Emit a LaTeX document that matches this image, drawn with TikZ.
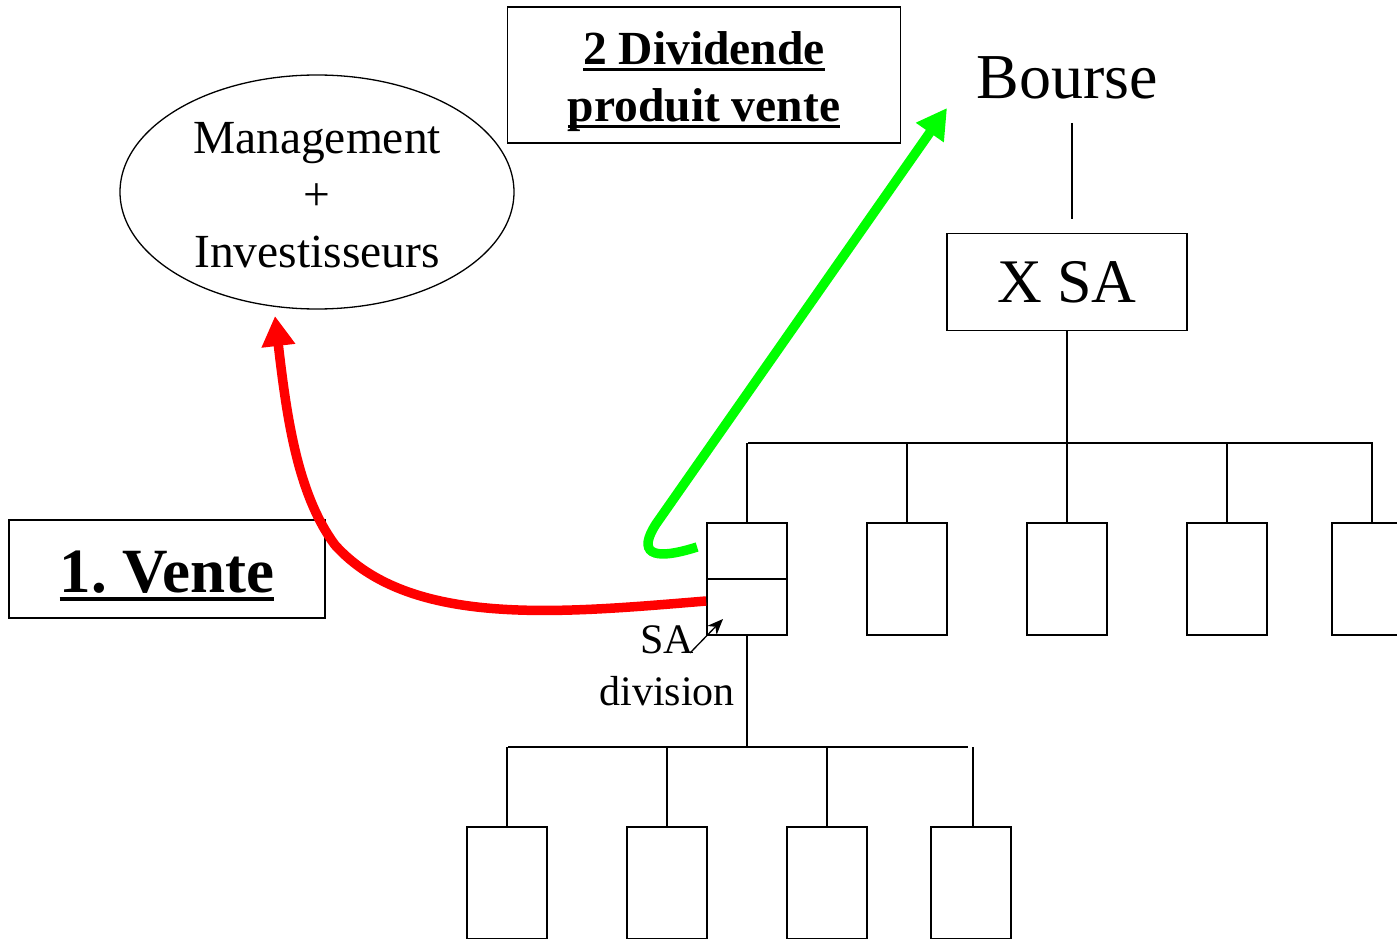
\documentclass[tikz,border=0pt]{standalone}
\usepackage{fontspec}
\setmainfont{Liberation Serif}
\usetikzlibrary{arrows.meta,shapes.geometric}
% underline drawn as a rule just below the baseline
\newcommand{\thickul}[1]{\setbox0\hbox{#1}\leavevmode\rlap{\rule[-0.13em]{\wd0}{0.06em}}\box0}
\begin{document}
\frenchspacing
\begin{tikzpicture}[x=1pt,y=-1pt,
  wire/.style={line width=1.8pt},
  box/.style={draw, line width=1.8pt, rectangle, inner sep=0pt},
  unit/.style={box, minimum width=80pt, minimum height=112pt},
  flow/.style={line width=9.5pt, -{Triangle[length=30pt,width=32pt]}},
  txt/.style 2 args={font=\fontsize{#1}{#2}\selectfont, align=center, inner sep=0pt},
]
\useasboundingbox (0,0) rectangle (1397,939);
\clip (0,0) rectangle (1397,939);

% top level
\node[txt={64}{76}] (bourse) at (1067,78) {Bourse};
\node[box, minimum width=240pt, minimum height=97pt, txt={62}{74}] (xsa) at (1067,282) {X SA};
\coordinate (bTop) at (1072,123);
\coordinate (bBot) at (1072,219);
\draw[wire] (bTop) -- (bBot);

% first level of subsidiaries
\node[unit] (u1) at (747,579) {};
\node[unit] (u2) at (907,579) {};
\node[unit] (u3) at (1067,579) {};
\node[unit] (u4) at (1227,579) {};
\node[unit] (u5) at (1372,579) {};
\draw[wire] (u1.west) -- (u1.east);

\coordinate (busL) at (748,443);
\coordinate (busR) at (1373,443);
\draw[wire] (xsa.south) -- (xsa.south |- busL);
\draw[wire] (busL) -- (busR);
\foreach \u in {u1,u2,u3,u4,u5}
  \draw[wire] (\u.north) -- (\u.north |- busL);

% second level below the division
\node[unit] (s1) at (507,883) {};
\node[unit] (s2) at (667,883) {};
\node[unit] (s3) at (827,883) {};
\node[unit] (s4) at (971,883) {};
\coordinate (subL) at (508,747);
\coordinate (subR) at (968,747);
\draw[wire] (u1.south) -- (u1.south |- subL);
\draw[wire] (subL) -- (subR);
\draw[wire] (s1.north) -- (s1.north |- subL);
\draw[wire] (s2.north) -- (s2.north |- subL);
\draw[wire] (s3.north) -- (s3.north |- subL);
\draw[wire] ([xshift=2pt]s4.north) -- ([xshift=2pt]s4.north |- subL);

% parties and labels
\node[draw, line width=1.3pt, ellipse, minimum width=394pt, minimum height=234pt]
  (mgmt) at (317,192) {};
\node[txt={47.5}{57}] (mgmtTxt) at (317,195) {Management\\+\\Investisseurs};
\node[box, minimum width=393pt, minimum height=136pt] (div) at (704,75) {};
\node[txt={47.5}{57}, font=\fontsize{47.5}{57}\selectfont\bfseries]
  (divTxt) at (704,82) {\thickul{2 Dividende}\\\thickul{produit vente}};
\node[box, minimum width=316pt, minimum height=98pt] (vente) at (167,569) {};
\node[txt={63}{75}, font=\fontsize{63}{75}\selectfont\bfseries]
  (venteTxt) at (167,576) {\thickul{1. Vente}};
\node[txt={42}{52}] (sa) at (667,666) {SA\\division};

% flows
\coordinate (redEnd) at (275,316);
\coordinate (greenEnd) at (947,108);
\coordinate (saTail) at (690,653);
\coordinate (saTip) at (723,619);
\draw[flow, red] ([yshift=-22pt]u1.west)
  .. controls (560,613) and (410,628) .. (335,545)
  .. controls (298,495) and (287,420) .. (redEnd);
\draw[flow, green] ([yshift=32pt,xshift=-9pt]u1.west)
  .. controls (650,562) and (638,552) .. (656,524)
  -- (greenEnd);
\draw[line width=1.3pt, -{Stealth[length=16pt,width=13pt]}] (saTail) -- (saTip);
\end{tikzpicture}
\end{document}
